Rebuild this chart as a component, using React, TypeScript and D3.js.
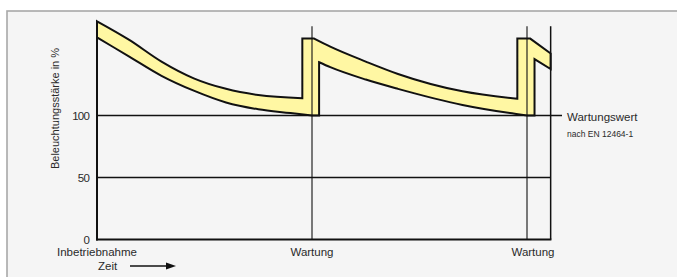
import React from "react";
import * as d3 from "d3";

const W = 677;
const H = 277;

// time units: maintenance every 10 units
const maintenanceTimes = [10, 20];
const endTime = 21.1;
const yTicks = [0, 50, 100];
const yGrid = [50, 100];

// upper boundary (new lamp) and lower boundary (degraded) of the illuminance band, in %
const upperCycle1: [number, number][] = [[0, 176], [1.5, 161], [3, 143.5], [4.5, 130], [6, 121.5], [7.5, 116.5], [9.55, 114]];
const upperCycle2: [number, number][] = [[10.1, 162], [10.85, 155.5], [12.5, 143.5], [14, 133.5], [17, 119.5], [19.55, 113.5]];
const upperTail: [number, number][] = [[19.55, 162], [20.15, 162], [21.1, 150]];
const lowerCycle1: [number, number][] = [[0, 163], [1.5, 147.5], [3, 132], [4.5, 120], [6, 110.5], [7.5, 105], [9, 102], [10, 100]];
const lowerCycle2: [number, number][] = [[10.33, 143], [10.85, 139], [12.5, 129], [14, 121.5], [17, 108.5], [19.5, 101.2], [20, 100]];
const lowerTail: [number, number][] = [[20.35, 100], [20.35, 145.5], [21.1, 137.5]];

const xLabels = [
  { t: 0, text: "Inbetriebnahme", dx: 0 },
  { t: 10, text: "Wartung", dx: 0 },
  { t: 20, text: "Wartung", dx: 6 },
];

export default function App() {
  const x = d3.scaleLinear().domain([0, 10]).range([97, 312]);
  const y = d3.scaleLinear().domain([0, 100]).range([239.5, 115.5]);
  const yTop = 172;

  const curve = d3.line<[number, number]>().x((d) => x(d[0])).y((d) => y(d[1])).curve(d3.curveMonotoneX);
  const lin = d3.line<[number, number]>().x((d) => x(d[0])).y((d) => y(d[1]));
  const cont = (s: string | null) => (s || "").replace(/^M/, "L");
  const rev = (a: [number, number][]) => a.slice().reverse();

  const bandPath =
    (curve(upperCycle1) || "") +
    cont(lin([[9.55, 162], [10.1, 162]])) +
    cont(curve(upperCycle2)) +
    cont(lin(upperTail)) +
    cont(lin(rev(lowerTail))) +
    cont(curve(rev(lowerCycle2))) +
    cont(lin([[10.33, 100], [10, 100]])) +
    cont(curve(rev(lowerCycle1))) +
    "Z";

  const font = "'Liberation Sans', Arial, sans-serif";
  const textColor = "#2a2a2a";

  return (
    <svg width={W} height={H} style={{ position: "absolute", left: 0, top: 0 }} fontFamily={font}>
      <rect x={0} y={0} width={W} height={H} fill="#fff" />
      <rect x={7} y={11} width={W} height={H} fill="#f5f5f5" stroke="#a8a8a8" strokeWidth={1.6} />

      {/* band */}
      <path d={bandPath} fill="#fff7a3" stroke="#111" strokeWidth={2} strokeLinejoin="miter" />

      {/* grid lines */}
      {yGrid.map((v) => (
        <line key={v} x1={x(0)} x2={v === 100 ? 562 : x(endTime)} y1={y(v)} y2={y(v)} stroke="#111" strokeWidth={1.4} />
      ))}
      {/* maintenance lines */}
      {maintenanceTimes.map((t) => (
        <line key={t} x1={x(t)} x2={x(t)} y1={y(yTop)} y2={y(0)} stroke="#111" strokeWidth={1.1} />
      ))}
      <line x1={x(endTime)} x2={x(endTime)} y1={y(yTop)} y2={y(0)} stroke="#111" strokeWidth={1.5} />
      {/* axes */}
      <line x1={x(0)} x2={x(0)} y1={y(yTop)} y2={y(0) + 1} stroke="#111" strokeWidth={2} />
      <line x1={x(0) - 1} x2={x(endTime) + 0.75} y1={y(0)} y2={y(0)} stroke="#111" strokeWidth={2} />

      {/* y tick labels */}
      {yTicks.map((v) => (
        <text key={v} x={89} y={y(v)} dy="0.35em" textAnchor="end" fontSize={11.5} fill={textColor} letterSpacing={-0.8}>
          {v}
        </text>
      ))}
      <text transform={`translate(59,108.5) rotate(-90)`} textAnchor="middle" fontSize={11} fill={textColor}>
        Beleuchtungsstärke in %
      </text>

      {/* x labels */}
      {xLabels.map((l, i) => (
        <text key={i} x={x(l.t) + l.dx} y={256} textAnchor="middle" fontSize={11.5} fill={textColor}>
          {l.text}
        </text>
      ))}
      <text x={98} y={270} fontSize={11.5} fill={textColor}>Zeit</text>
      <line x1={130} x2={168} y1={266} y2={266} stroke="#111" strokeWidth={1.6} />
      <path d="M166,262.5 L176,266 L166,269.5 Z" fill="#111" />

      {/* Wartungswert label */}
      <text x={567} y={121} fontSize={11.5} fill={textColor}>Wartungswert</text>
      <text x={567} y={136.5} fontSize={8.5} fill={textColor}>nach EN 12464-1</text>
    </svg>
  );
}
